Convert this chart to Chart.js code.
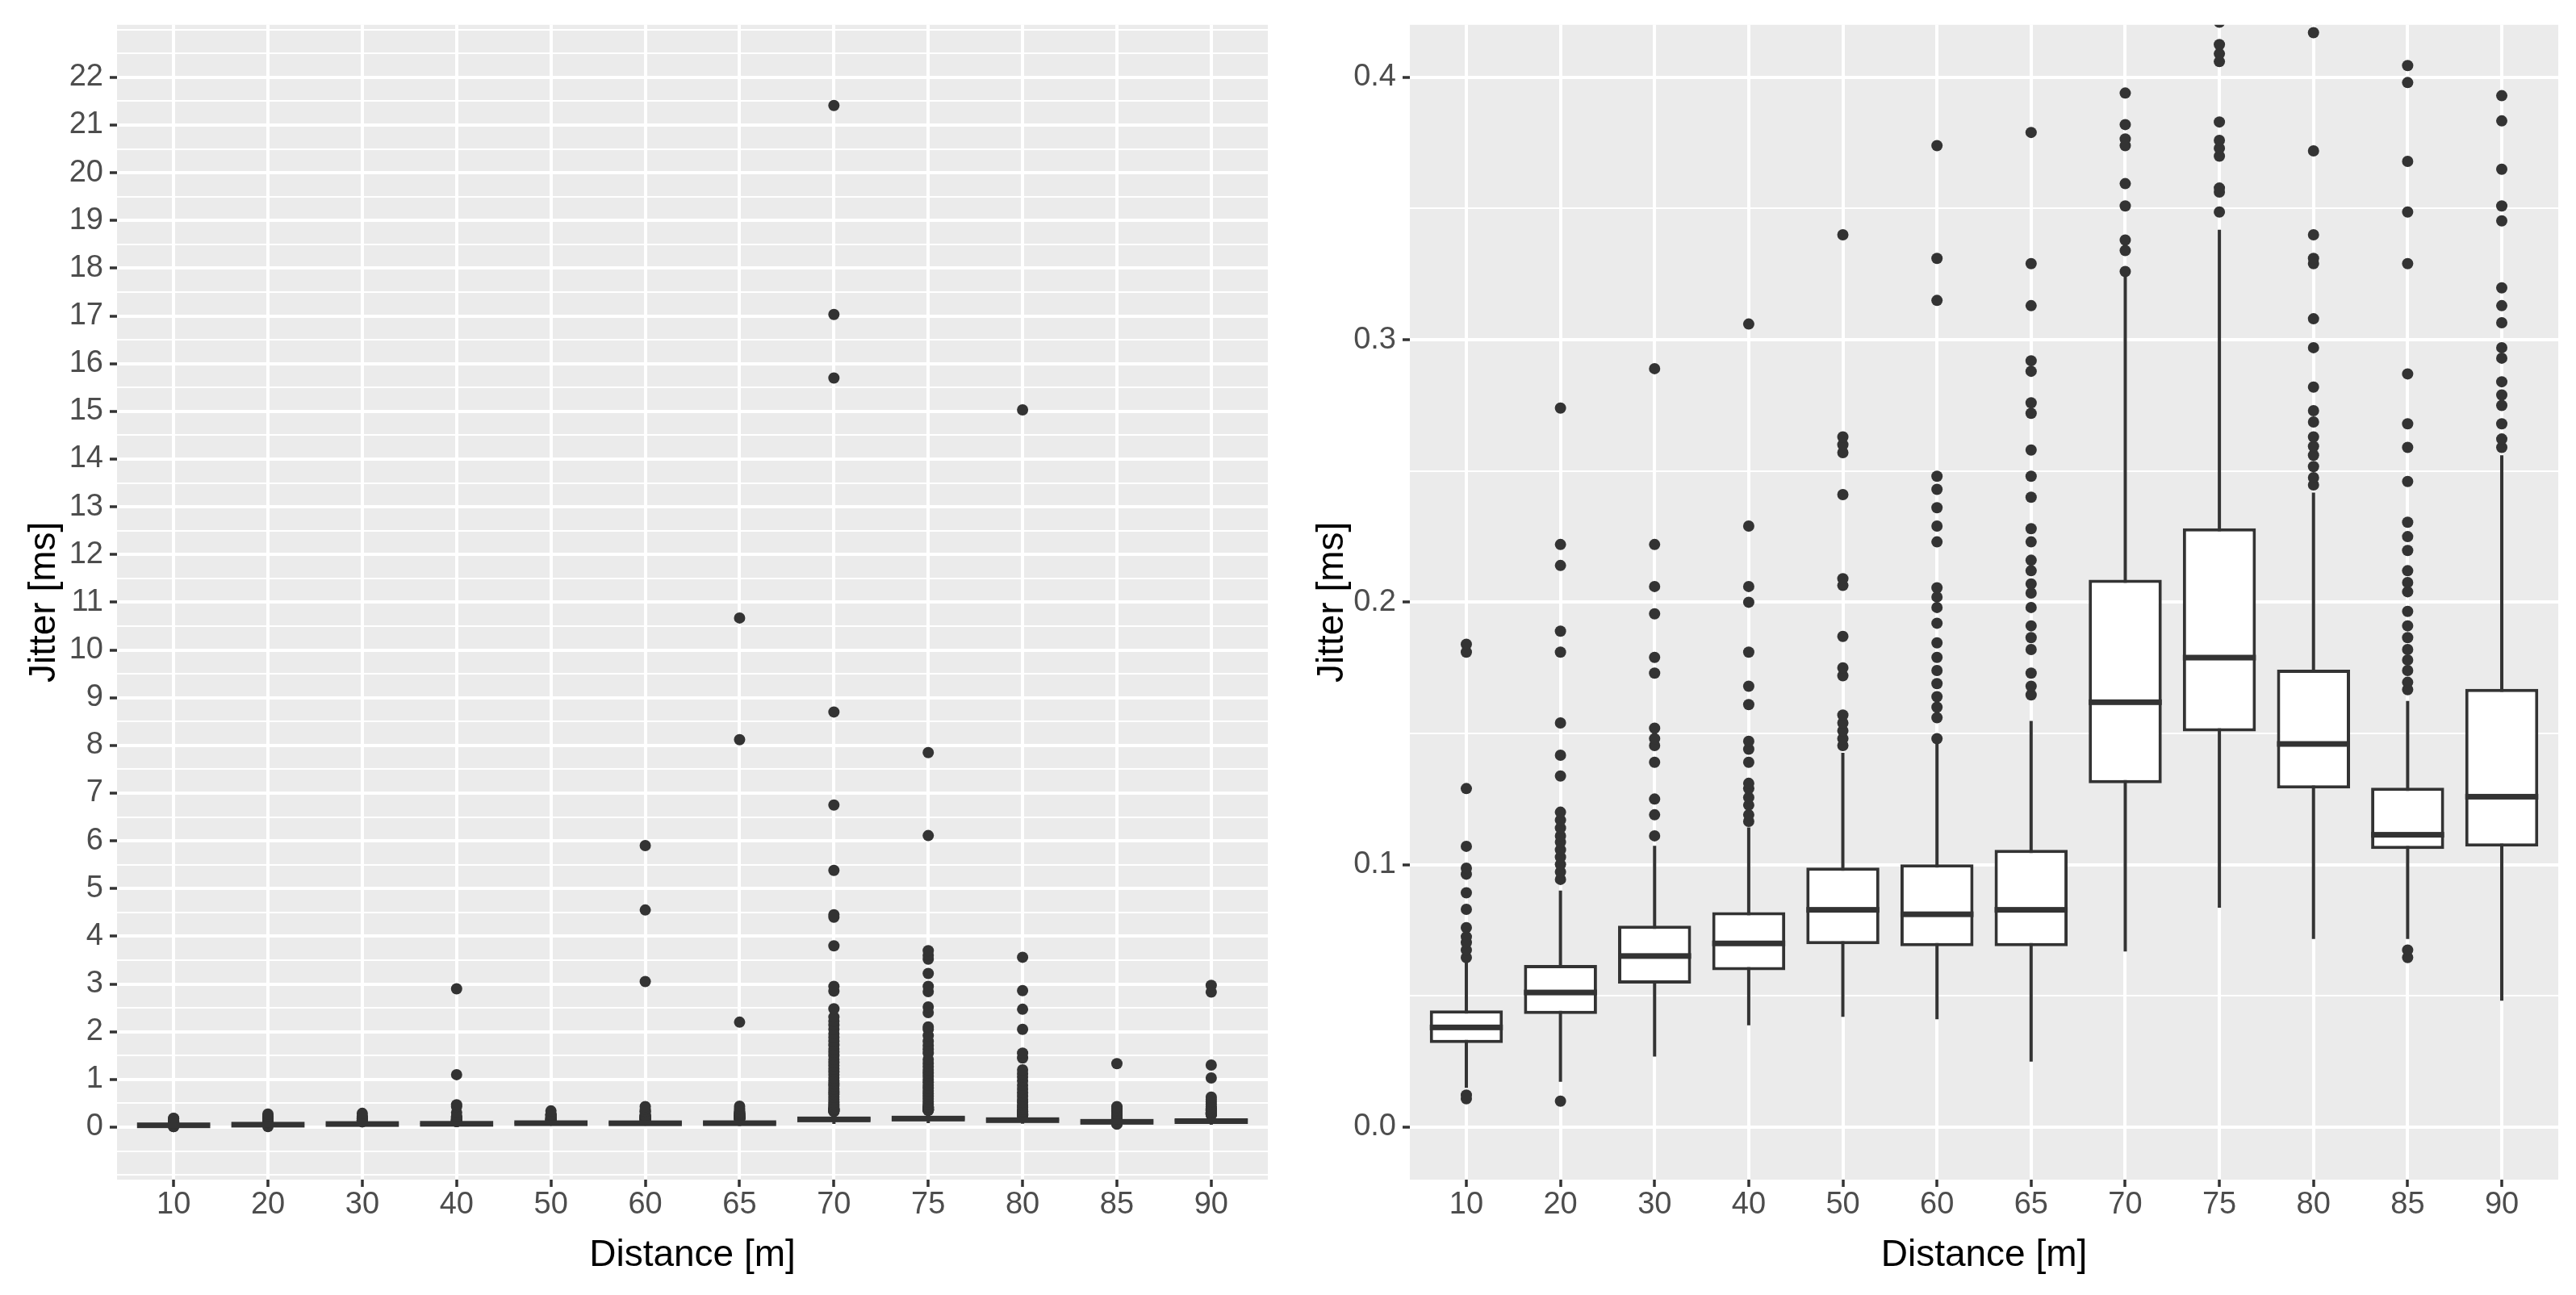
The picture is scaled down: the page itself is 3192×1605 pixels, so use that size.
<!DOCTYPE html>
<html lang="en">
<head>
<meta charset="UTF-8">
<title>Jitter by distance</title>
<script src="https://cdn.jsdelivr.net/npm/chart.js"></script>
<style>
    body {
        margin: 0;
        background: #fff;
        width: 3192px;
        height: 1605px;
        overflow: hidden;
        position: relative;
    }
    canvas {
        position: absolute;
        top: 0;
    }
    #fullChart { left: 0; }
    #zoomChart { left: 1596px; }
</style>
</head>
<body>
<canvas id="fullChart" width="1596" height="1605"></canvas>
<canvas id="zoomChart" width="1596" height="1605"></canvas>
<script>
// categories (distance in metres)
const distances = ['10', '20', '30', '40', '50', '60', '65', '70', '75', '80', '85', '90'];

// box statistics, jitter in ms
const whiskerLow  = [0.0150, 0.0173, 0.0269, 0.0388, 0.0420, 0.0411, 0.0250, 0.0669, 0.0836, 0.0717, 0.0717, 0.0482];
const q1          = [0.0320, 0.0431, 0.0547, 0.0598, 0.0697, 0.0689, 0.0689, 0.1310, 0.1508, 0.1290, 0.1060, 0.1069];
const medians     = [0.0380, 0.0513, 0.0652, 0.0700, 0.0828, 0.0811, 0.0828, 0.1619, 0.1789, 0.1460, 0.1114, 0.1259];
const q3          = [0.0445, 0.0618, 0.0768, 0.0819, 0.0989, 0.1001, 0.1057, 0.2086, 0.2282, 0.1743, 0.1293, 0.1670];
const whiskerHigh = [0.0632, 0.0901, 0.1072, 0.1142, 0.1426, 0.1474, 0.1548, 0.3254, 0.3419, 0.2418, 0.1624, 0.2560];

// outliers per distance
const outliers10 = [0.0108, 0.0122, 0.0646, 0.0675, 0.0703, 0.0725, 0.0760, 0.0830, 0.0893, 0.0964, 0.0987, 0.107, 0.129, 0.181, 0.184];
const outliers20 = [0.0099, 0.0944, 0.0972, 0.1001, 0.1029, 0.1057, 0.1086, 0.111, 0.114, 0.117, 0.120, 0.1338, 0.1417, 0.154, 0.181, 0.189, 0.214, 0.222, 0.274];
const outliers30 = [0.111, 0.119, 0.125, 0.139, 0.1454, 0.148, 0.152, 0.173, 0.179, 0.1956, 0.206, 0.222, 0.289];
const outliers40 = [0.1165, 0.119, 0.1227, 0.1256, 0.129, 0.131, 0.139, 0.144, 0.147, 0.161, 0.168, 0.181, 0.200, 0.206, 0.229, 0.306, 0.43, 0.47, 1.1, 2.9];
const outliers50 = [0.1454, 0.148, 0.151, 0.154, 0.157, 0.172, 0.175, 0.187, 0.2064, 0.209, 0.241, 0.257, 0.260, 0.263, 0.340];
const outliers60 = [0.148, 0.156, 0.160, 0.164, 0.169, 0.174, 0.179, 0.1845, 0.192, 0.198, 0.202, 0.2055, 0.223, 0.229, 0.236, 0.243, 0.248, 0.315, 0.331, 0.374, 0.43, 3.05, 4.55, 5.9];
const outliers65 = [0.1647, 0.168, 0.173, 0.182, 0.1865, 0.191, 0.198, 0.2035, 0.207, 0.212, 0.216, 0.223, 0.228, 0.240, 0.248, 0.258, 0.272, 0.276, 0.288, 0.292, 0.313, 0.329, 0.379, 0.44, 2.2, 8.12, 10.67];
const outliers70 = [0.326, 0.334, 0.338, 0.351, 0.3595, 0.374, 0.3765, 0.382, 0.394, 0.43, 0.47, 0.52, 0.58, 0.63, 0.69, 0.74, 0.80, 0.86, 0.91, 0.97, 1.03, 1.10, 1.16, 1.22, 1.29, 1.35, 1.42, 1.50, 1.57, 1.64, 1.72, 1.80, 1.88, 1.96, 2.05, 2.14, 2.22, 2.31, 2.48, 2.85, 2.95, 3.8, 4.4, 4.45, 5.38, 6.75, 8.7, 15.7, 17.03, 21.41];
const outliers75 = [0.3487, 0.3563, 0.3578, 0.370, 0.373, 0.376, 0.383, 0.406, 0.409, 0.4125, 0.421, 0.43, 0.48, 0.53, 0.59, 0.64, 0.70, 0.76, 0.82, 0.88, 0.94, 1.00, 1.07, 1.13, 1.20, 1.27, 1.34, 1.42, 1.55, 1.63, 1.71, 1.80, 1.92, 2.05, 2.10, 2.40, 2.52, 2.84, 2.95, 3.22, 3.52, 3.60, 3.70, 6.11, 7.85];
const outliers80 = [0.2447, 0.2475, 0.2517, 0.256, 0.2594, 0.263, 0.2687, 0.273, 0.282, 0.297, 0.308, 0.329, 0.331, 0.340, 0.372, 0.417, 0.46, 0.52, 0.58, 0.65, 0.72, 0.80, 0.88, 0.97, 1.05, 1.12, 1.20, 1.45, 1.55, 2.05, 2.47, 2.86, 3.56, 15.03];
const outliers85 = [0.0646, 0.0675, 0.1667, 0.1695, 0.174, 0.178, 0.182, 0.1865, 0.191, 0.1965, 0.204, 0.2075, 0.212, 0.2197, 0.225, 0.2305, 0.246, 0.259, 0.268, 0.287, 0.329, 0.3487, 0.368, 0.398, 0.4045, 0.43, 1.33];
const outliers90 = [0.259, 0.2622, 0.268, 0.275, 0.279, 0.284, 0.293, 0.297, 0.3065, 0.313, 0.3198, 0.3453, 0.351, 0.365, 0.3834, 0.393, 0.43, 0.48, 0.53, 0.58, 0.63, 1.03, 1.3, 2.83, 2.97];
const outliers = [outliers10, outliers20, outliers30, outliers40, outliers50, outliers60,
                  outliers65, outliers70, outliers75, outliers80, outliers85, outliers90];

// labelled (major) y ticks of each panel
const fullMajorTicks = [0, 1, 2, 3, 4, 5, 6, 7, 8, 9, 10, 11, 12, 13, 14, 15, 16, 17, 18, 19, 20, 21, 22];
const zoomMajorTicks = [0, 0.1, 0.2, 0.3, 0.4];

const INK = '#333333';
Chart.defaults.font.family = '"Liberation Sans", Arial, Helvetica, sans-serif';

// grey panel behind the grid
const panelBackground = {
    id: 'panelBackground',
    beforeDraw(chart) {
        const {ctx, chartArea} = chart;
        ctx.save();
        ctx.fillStyle = '#EBEBEB';
        ctx.fillRect(chartArea.left, chartArea.top, chartArea.right - chartArea.left, chartArea.bottom - chartArea.top);
        ctx.restore();
    }
};

// thick median bar across each box
const medianLines = {
    id: 'medianLines',
    afterDatasetsDraw(chart) {
        const {ctx, chartArea} = chart;
        const yScale = chart.scales.y;
        const meta = chart.getDatasetMeta(1);
        ctx.save();
        ctx.beginPath();
        ctx.rect(chartArea.left, chartArea.top, chartArea.right - chartArea.left, chartArea.bottom - chartArea.top);
        ctx.clip();
        ctx.fillStyle = INK;
        meta.data.forEach((bar, i) => {
            const y = yScale.getPixelForValue(medians[i]);
            ctx.fillRect(bar.x - bar.width / 2, y - 3.5, bar.width, 7);
        });
        ctx.restore();
    }
};

function isMajor(value, majors) {
    return majors.some(m => Math.abs(m - value) < 1e-9);
}

function makeBoxChart(canvasId, cfg) {
    const boxData = distances.map((d, i) => ({x: i, y: [q1[i], q3[i]]}));
    const whiskerData = distances.map((d, i) => ({x: i, y: [whiskerLow[i], whiskerHigh[i]]}));
    const pointData = outliers.flatMap((vals, i) => vals.map(v => ({x: i, y: v})));

    return new Chart(document.getElementById(canvasId), {
        type: 'bar',
        data: {
            datasets: [
                {
                    type: 'scatter',
                    data: pointData,
                    order: 0,
                    clip: 0,
                    pointRadius: 7,
                    pointHoverRadius: 7,
                    pointBorderWidth: 0,
                    pointBackgroundColor: INK,
                    backgroundColor: INK
                },
                {
                    data: boxData,
                    order: 1,
                    grouped: false,
                    barPercentage: 0.776,
                    categoryPercentage: 1,
                    backgroundColor: '#FFFFFF',
                    borderColor: INK,
                    borderWidth: 4,
                    borderSkipped: false
                },
                {
                    data: whiskerData,
                    order: 2,
                    grouped: false,
                    maxBarThickness: 4,
                    backgroundColor: INK,
                    borderWidth: 0
                }
            ]
        },
        options: {
            responsive: false,
            animation: false,
            devicePixelRatio: 1,
            layout: {padding: {top: 29, right: cfg.padRight, bottom: 0, left: 0}},
            plugins: {legend: {display: false}, tooltip: {enabled: false}},
            scales: {
                x: {
                    type: 'linear',
                    min: -0.6,
                    max: 11.6,
                    offset: false,
                    afterFit: (scale) => { scale.height = 143; },
                    border: {display: false},
                    grid: {
                        offset: false,
                        color: '#FFFFFF',
                        lineWidth: 4,
                        tickColor: INK,
                        tickLength: 9,
                        tickWidth: 3.5
                    },
                    ticks: {
                        stepSize: 1,
                        includeBounds: false,
                        autoSkip: false,
                        maxRotation: 0,
                        padding: 0,
                        color: '#4D4D4D',
                        font: {size: 38},
                        callback: (value) => distances[value] !== undefined ? distances[value] : ''
                    },
                    title: {
                        display: true,
                        text: 'Distance [m]',
                        color: '#000000',
                        font: {size: 46},
                        padding: {top: 0, bottom: 21}
                    }
                },
                y: {
                    min: cfg.yMin,
                    max: cfg.yMax,
                    afterFit: (scale) => { scale.width = cfg.axisWidth; },
                    border: {display: false},
                    grid: {
                        color: '#FFFFFF',
                        lineWidth: (ctx) => isMajor(ctx.tick.value, cfg.majors) ? 4 : 2,
                        tickColor: (ctx) => isMajor(ctx.tick.value, cfg.majors) ? INK : 'rgba(0,0,0,0)',
                        tickLength: 9,
                        tickWidth: 3.5
                    },
                    ticks: {
                        stepSize: cfg.step,
                        includeBounds: false,
                        autoSkip: false,
                        padding: 8,
                        color: '#4D4D4D',
                        font: {size: 38},
                        callback: (value) => isMajor(value, cfg.majors) ? cfg.format(value) : ''
                    },
                    title: {
                        display: true,
                        text: 'Jitter [ms]',
                        color: '#000000',
                        font: {size: 46},
                        padding: {top: 28, bottom: 0}
                    }
                }
            }
        },
        plugins: [panelBackground, medianLines]
    });
}

makeBoxChart('fullChart', {
    yMin: -1.1, yMax: 23.1, step: 0.5,
    majors: fullMajorTicks, axisWidth: 145, padRight: 25,
    format: (v) => String(Math.round(v))
});

makeBoxChart('zoomChart', {
    yMin: -0.02, yMax: 0.42, step: 0.05,
    majors: zoomMajorTicks, axisWidth: 151, padRight: 22,
    format: (v) => v.toFixed(1)
});
</script>
</body>
</html>
